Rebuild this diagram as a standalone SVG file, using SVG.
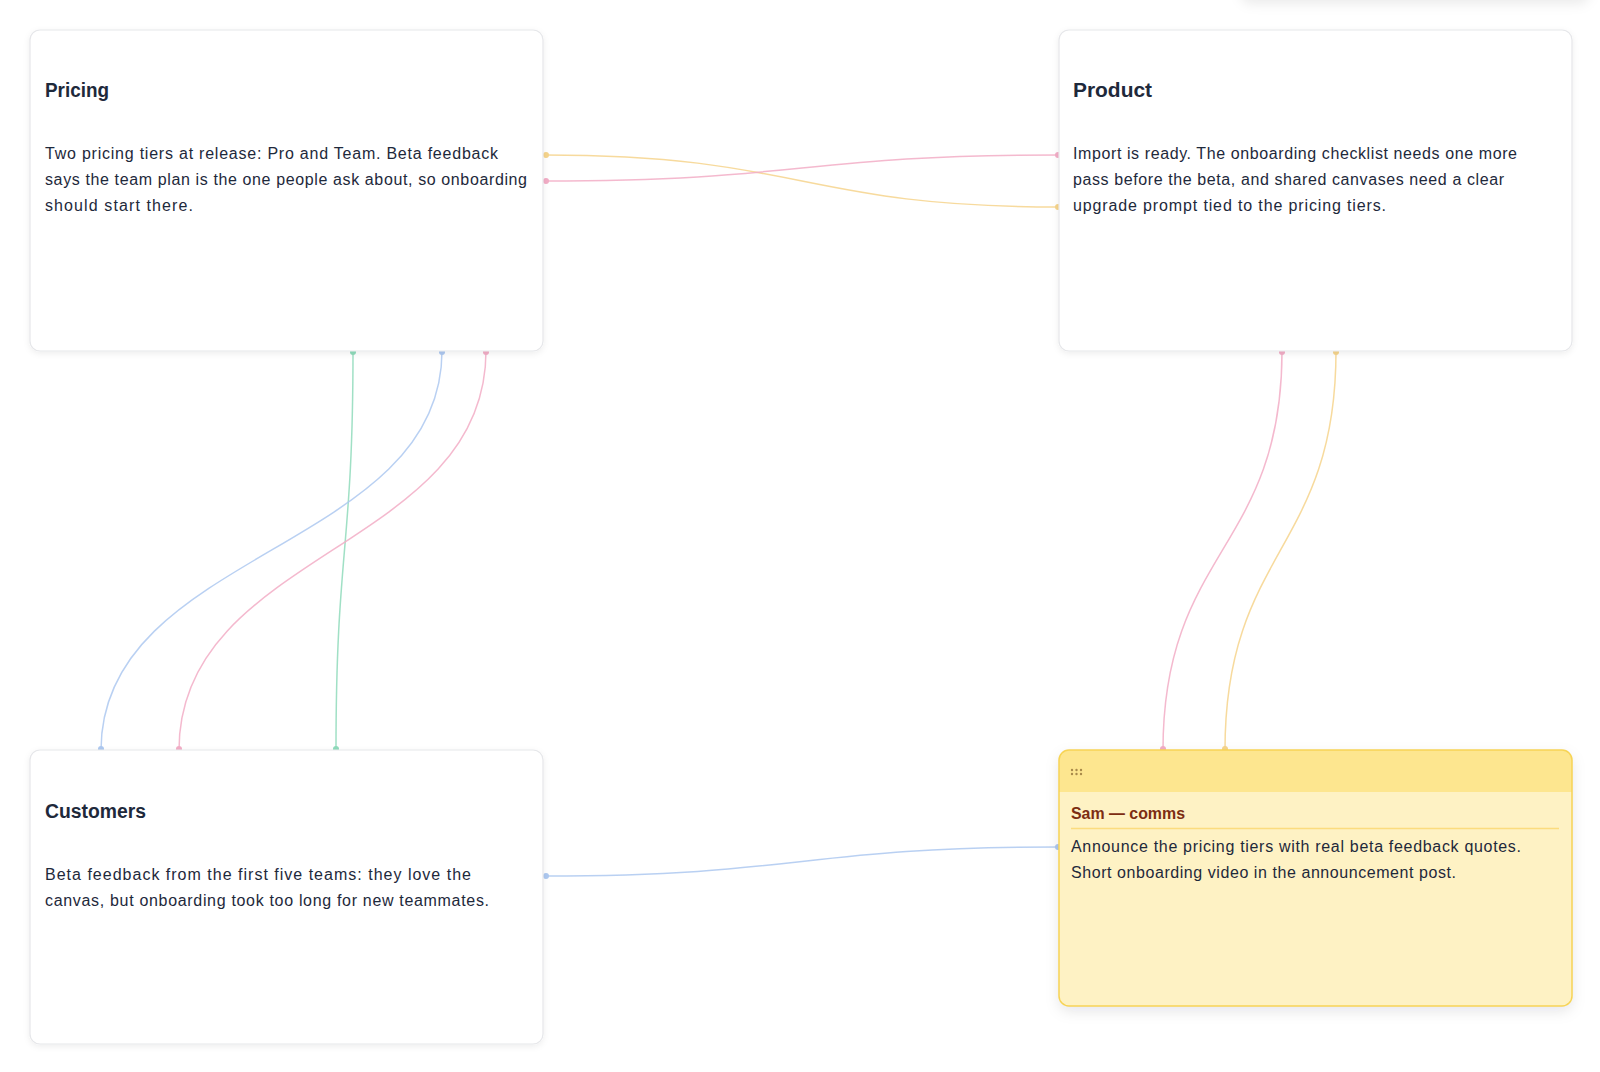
<svg xmlns="http://www.w3.org/2000/svg" width="1600" height="1072" viewBox="0 0 1600 1072">
<defs>
<style>
.card{fill:#ffffff;stroke:#e6e7ea;stroke-width:1.2}
.title{font-family:"Liberation Sans",Arial,sans-serif;font-size:20px;font-weight:700;fill:#1e293b}
.body{font-family:"Liberation Sans",Arial,sans-serif;font-size:16px;fill:#1e293b}
.stitle{font-family:"Liberation Sans",Arial,sans-serif;font-size:16px;font-weight:700;fill:#7c2d12}
.conn{fill:none;stroke-width:1.5;stroke-linecap:round;opacity:0.85}
.y{stroke:#f6d48c}
.p{stroke:#f2adc6}
.g{stroke:#8fdbbb}
.b{stroke:#adc8f0}
.yd{fill:#f6d48c}
.pd{fill:#f2adc6}
.gd{fill:#8fdbbb}
.bd{fill:#adc8f0}
</style>
<filter id="sh" x="-10%" y="-10%" width="120%" height="130%">
<feDropShadow dx="0" dy="2" stdDeviation="3" flood-color="#0f172a" flood-opacity="0.07"/>
</filter>
<filter id="sh2" x="-10%" y="-10%" width="120%" height="130%">
<feDropShadow dx="0" dy="5" stdDeviation="7" flood-color="#0f172a" flood-opacity="0.10"/>
</filter>
<filter id="sh3" x="-20%" y="-100%" width="140%" height="300%">
<feDropShadow dx="0" dy="4" stdDeviation="6" flood-color="#0f172a" flood-opacity="0.08"/>
</filter>
<clipPath id="stickyClip"><rect x="1059" y="750" width="513" height="256" rx="10"/></clipPath>
</defs>
<rect x="0" y="0" width="1600" height="1072" fill="#ffffff"/>
<rect x="1240" y="-60" width="350" height="60" rx="12" fill="#ffffff" filter="url(#sh3)"/>

<g id="connectors">
<path class="conn y" d="M545,155 C802,155 802,207 1059,207"/>
<path class="conn p" d="M545,181 C802,181 802,155 1059,155"/>
<path class="conn g" d="M353,351 C353,550 336,550 336,750"/>
<path class="conn b" d="M442,351 C442,550 101,550 101,750"/>
<path class="conn p" d="M486,351 C486,550 179,550 179,750"/>
<path class="conn p" d="M1282,351 C1282,550 1163,550 1163,750"/>
<path class="conn y" d="M1336,351 C1336,550 1225,550 1225,750"/>
<path class="conn b" d="M545,876 C802,876 802,847 1059,847"/>
<circle class="yd" cx="546" cy="155" r="3"/>
<circle class="yd" cx="1058" cy="207" r="3"/>
<circle class="pd" cx="546" cy="181" r="3"/>
<circle class="pd" cx="1058" cy="155" r="3"/>
<circle class="gd" cx="353" cy="352" r="3"/>
<circle class="gd" cx="336" cy="749" r="3"/>
<circle class="bd" cx="442" cy="352" r="3"/>
<circle class="bd" cx="101" cy="749" r="3"/>
<circle class="pd" cx="486" cy="352" r="3"/>
<circle class="pd" cx="179" cy="749" r="3"/>
<circle class="pd" cx="1282" cy="352" r="3"/>
<circle class="pd" cx="1163" cy="749" r="3"/>
<circle class="yd" cx="1336" cy="352" r="3"/>
<circle class="yd" cx="1225" cy="749" r="3"/>
<circle class="bd" cx="546" cy="876" r="3"/>
<circle class="bd" cx="1058" cy="847" r="3"/>
</g>

<g id="node-pricing">
<rect class="card" x="30" y="30" width="513" height="321" rx="10" filter="url(#sh)"/>
<text class="title" x="45" y="97" textLength="64" lengthAdjust="spacingAndGlyphs">Pricing</text>
<text class="body" x="45" y="159" textLength="453" lengthAdjust="spacing">Two pricing tiers at release: Pro and Team. Beta feedback</text>
<text class="body" x="45" y="185" textLength="482" lengthAdjust="spacing">says the team plan is the one people ask about, so onboarding</text>
<text class="body" x="45" y="211" textLength="148" lengthAdjust="spacing">should start there.</text>
</g>

<g id="node-product">
<rect class="card" x="1059" y="30" width="513" height="321" rx="10" filter="url(#sh)"/>
<text class="title" x="1073" y="97" textLength="79" lengthAdjust="spacingAndGlyphs">Product</text>
<text class="body" x="1073" y="159" textLength="444" lengthAdjust="spacing">Import is ready. The onboarding checklist needs one more</text>
<text class="body" x="1073" y="185" textLength="431" lengthAdjust="spacing">pass before the beta, and shared canvases need a clear</text>
<text class="body" x="1073" y="211" textLength="313" lengthAdjust="spacing">upgrade prompt tied to the pricing tiers.</text>
</g>

<g id="node-customers">
<rect class="card" x="30" y="750" width="513" height="294" rx="10" filter="url(#sh)"/>
<text class="title" x="45" y="818" textLength="101" lengthAdjust="spacingAndGlyphs">Customers</text>
<text class="body" x="45" y="880" textLength="426" lengthAdjust="spacing">Beta feedback from the first five teams: they love the</text>
<text class="body" x="45" y="906" textLength="444" lengthAdjust="spacing">canvas, but onboarding took too long for new teammates.</text>
</g>

<g id="node-sam-comms">
<rect x="1059" y="750" width="513" height="256" rx="10" fill="#fef2c4" filter="url(#sh2)"/>
<g clip-path="url(#stickyClip)">
<rect x="1059" y="750" width="513" height="42" fill="#fde68f"/>
</g>
<rect x="1059" y="750" width="513" height="256" rx="10" fill="none" stroke="#f7d455" stroke-width="1.5"/>
<g fill="#a88a4a">
<circle cx="1072" cy="770" r="1.2"/><circle cx="1076.5" cy="770" r="1.2"/><circle cx="1081" cy="770" r="1.2"/>
<circle cx="1072" cy="774" r="1.2"/><circle cx="1076.5" cy="774" r="1.2"/><circle cx="1081" cy="774" r="1.2"/>
</g>
<text class="stitle" x="1071" y="819" textLength="114" lengthAdjust="spacingAndGlyphs">Sam — comms</text>
<line x1="1071" y1="828.5" x2="1559" y2="828.5" stroke="#fbdc7e" stroke-width="1.5"/>
<text class="body" x="1071" y="852" textLength="450" lengthAdjust="spacing">Announce the pricing tiers with real beta feedback quotes.</text>
<text class="body" x="1071" y="878" textLength="385" lengthAdjust="spacing">Short onboarding video in the announcement post.</text>
</g>
</svg>
